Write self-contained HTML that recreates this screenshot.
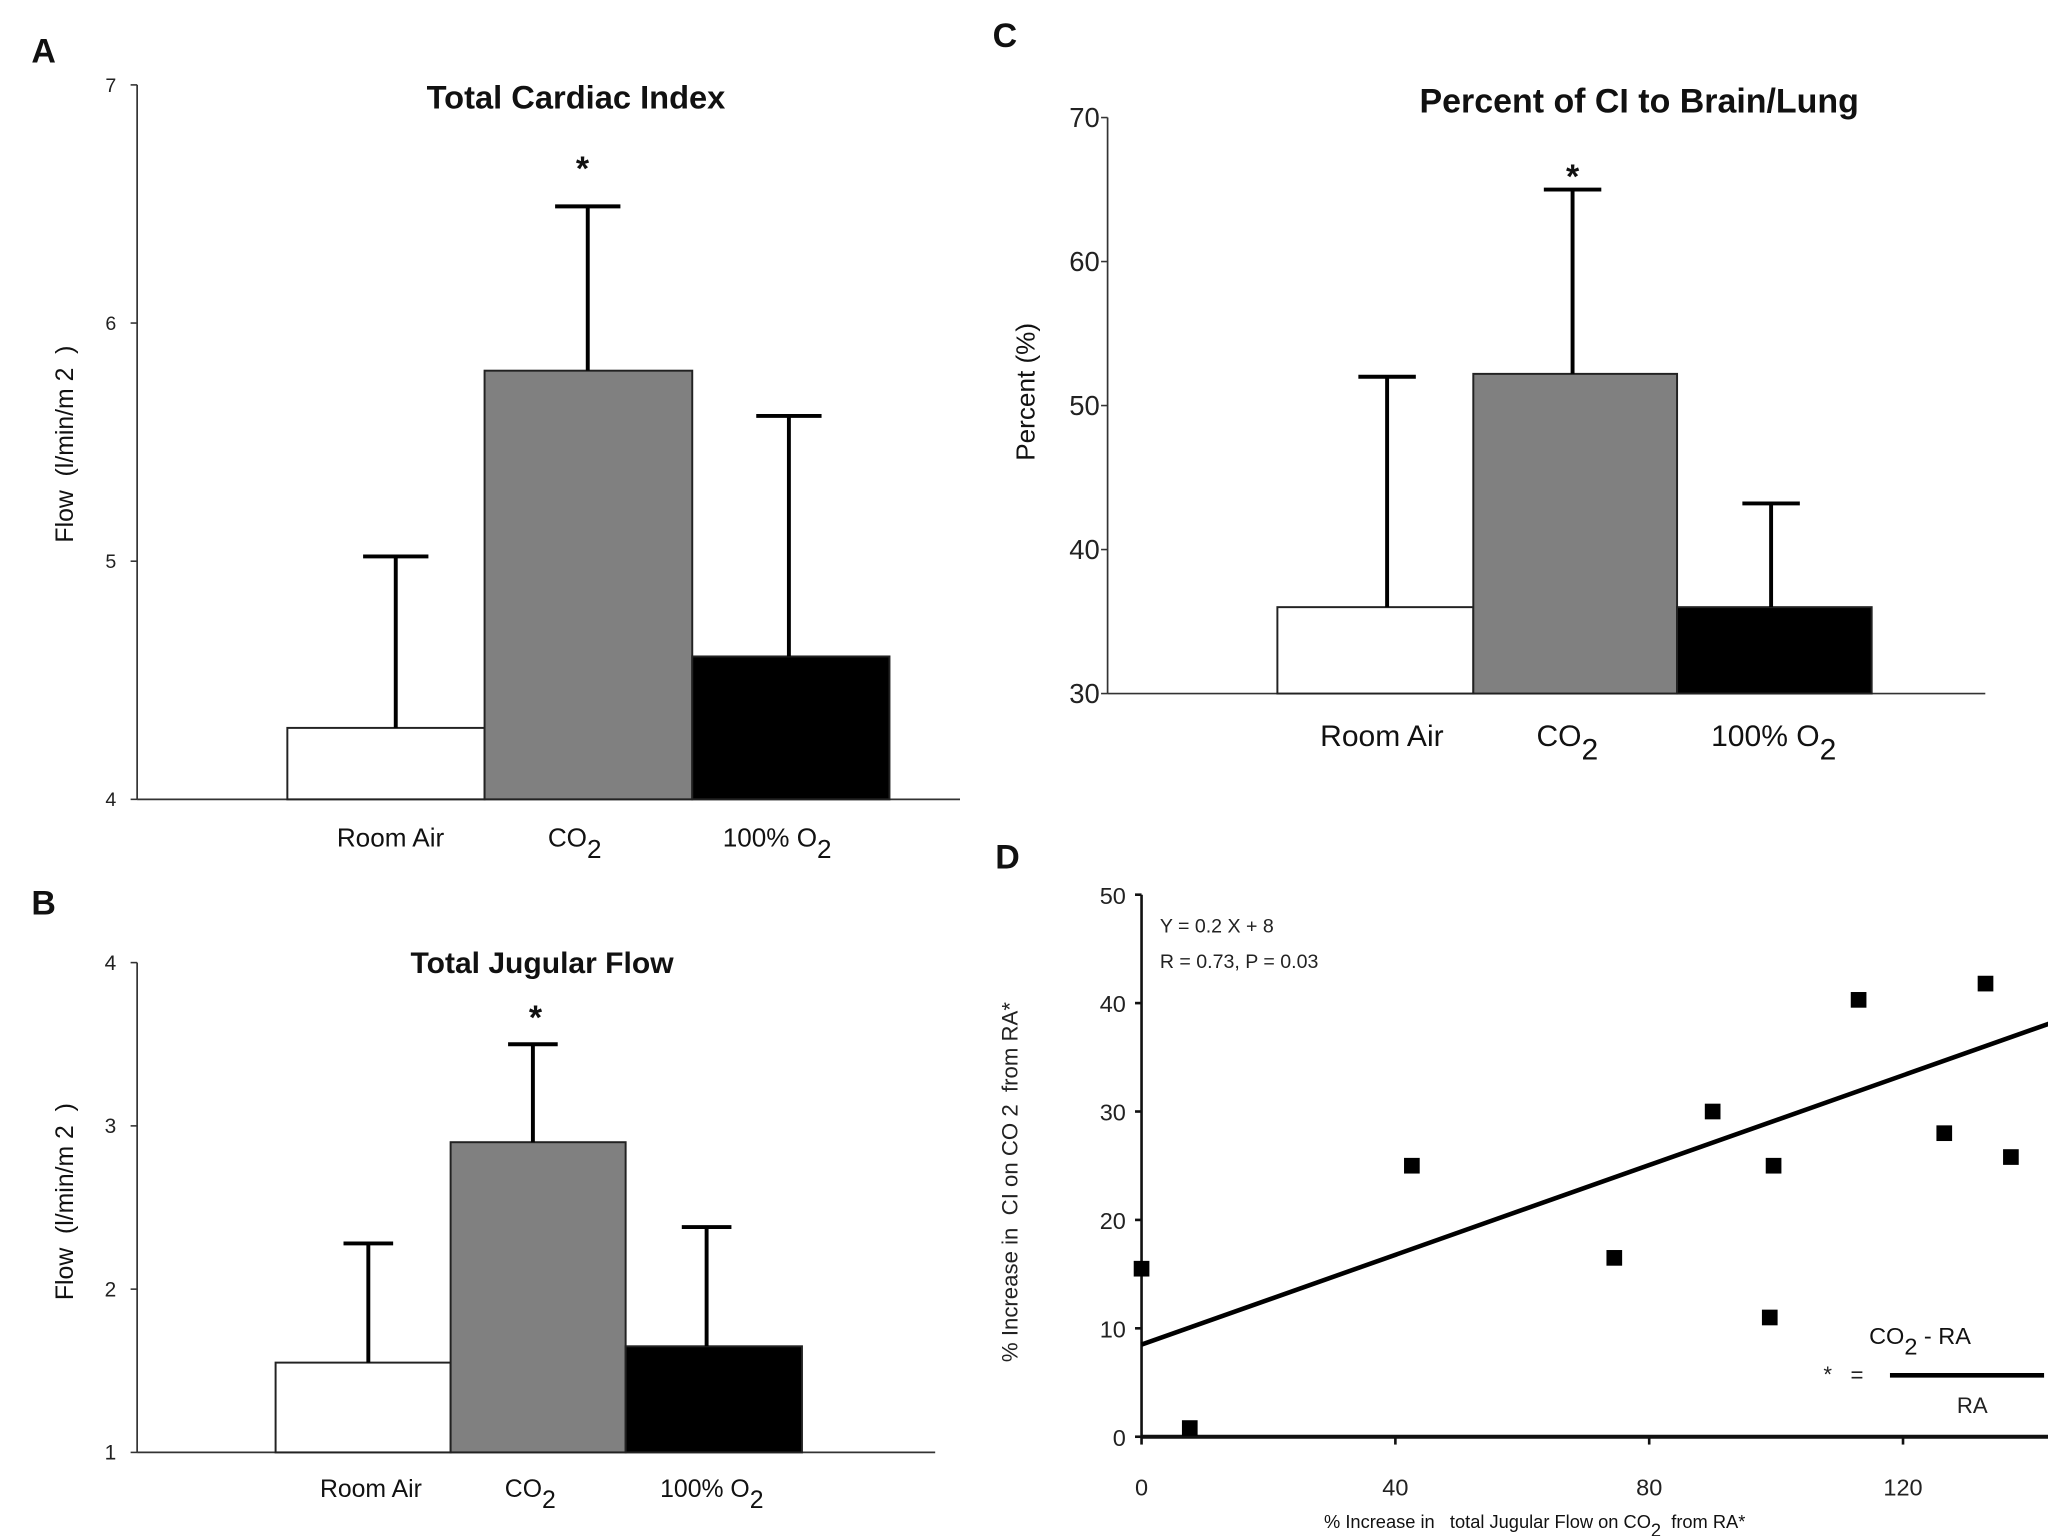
<!DOCTYPE html>
<html><head><meta charset="utf-8"><style>
html,body{margin:0;padding:0;background:#fff;}
svg{display:block;font-family:"Liberation Sans",Arial,sans-serif;}
svg text{white-space:pre;}
</style></head><body>
<svg id="fig" width="2048" height="1536" viewBox="0 0 1568 1176" xmlns="http://www.w3.org/2000/svg" xml:space="preserve">
<rect width="1568" height="1176" fill="#fff"/>
<g id="root"></g>
</svg>
<script>
// Panel A data
const catsA = ["Room Air", "CO2", "100% O2"];
const valsA = [4.3, 5.8, 4.6];
const errA = [5.02, 6.49, 5.61];
const ticksA = [4, 5, 6, 7];
// Panel B data
const valsB = [1.55, 2.9, 1.65];
const errB = [2.28, 3.5, 2.38];
const ticksB = [1, 2, 3, 4];
// Panel C data
const valsC = [36, 52.2, 36];
const errC = [52, 65, 43.2];
const ticksC = [30, 40, 50, 60, 70];
// Panel D data
const ptsX = [0, 7.6, 42.6, 74.5, 90, 99, 99.6, 113, 126.5, 133, 137];
const ptsY = [15.5, 0.8, 25, 16.5, 30, 11, 25, 40.3, 28, 41.8, 25.8];
const fitSlope = [0.207];
const fitIntercept = [8.5];
const ticksDX = [0, 40, 80, 120];
const ticksDY = [0, 10, 20, 30, 40, 50];
const fills = ["#ffffff", "#808080", "#000000"];

const NS = "http://www.w3.org/2000/svg";
const root = document.getElementById("root");
function mk(tag, attrs, parent, text) {
  const e = document.createElementNS(NS, tag);
  for (const k in attrs) e.setAttribute(k, attrs[k]);
  if (text !== undefined) e.textContent = text;
  (parent || root).appendChild(e);
  return e;
}
function subLabel(g, x, y, base, sub, rest, fs) {
  const t = mk("text", {x: x, y: y, "font-size": fs, "text-anchor": "middle", fill: "#111"}, g);
  const a = document.createElementNS(NS, "tspan"); a.textContent = base; t.appendChild(a);
  const b = document.createElementNS(NS, "tspan"); b.setAttribute("dy", fs * 0.45); b.setAttribute("font-size", fs); b.textContent = sub; t.appendChild(b);
  if (rest) { const c = document.createElementNS(NS, "tspan"); c.setAttribute("dy", -fs * 0.45); c.textContent = rest; t.appendChild(c); }
  return t;
}

function barPanel(cfg) {
  const g = mk("g", {});
  
  
  const y = v => cfg.y0 + (v - cfg.vmin) / (cfg.vmax - cfg.vmin) * (cfg.y1 - cfg.y0);
  const yl = mk("line", {x1: cfg.ax, x2: cfg.ax, y1: y(cfg.vmax), y2: y(cfg.vmin), stroke: "#333", "stroke-width": 1.3}, g);
   
  const xl = mk("line", {x1: cfg.ax, x2: cfg.axEnd, y1: y(cfg.vmin), y2: y(cfg.vmin), stroke: "#333", "stroke-width": 1.3}, g);
   
  cfg.ticks.forEach(t => {
    mk("line", {x1: cfg.ax - 5, x2: cfg.ax, y1: y(t), y2: y(t), stroke: "#333", "stroke-width": 1.2}, g);
    const tl = mk("text", {x: cfg.ax - cfg.tickOff, y: y(t) + cfg.tickFs * 0.35, "font-size": cfg.tickFs, "text-anchor": "end", fill: "#222"}, g, String(t));
     
  });
  cfg.vals.forEach((v, i) => {
    const x0 = cfg.bx[i], x1 = cfg.bx[i + 1], cx = cfg.ex[i];
    const r = mk("rect", {x: x0, y: y(v), width: x1 - x0, height: y(cfg.vmin) - y(v), fill: fills[i], stroke: "#222", "stroke-width": 1.5}, g);
    
    
    const e = mk("path", {d: `M${cx},${y(v)}V${y(cfg.err[i])}M${cx - cfg.cap},${y(cfg.err[i])}H${cx + cfg.cap}`, stroke: "#000", "stroke-width": 3, fill: "none"}, g);
     
  });
  const ti = mk("text", {x: cfg.titleX, y: cfg.titleY, "font-size": cfg.titleFs, "font-weight": "bold", "text-anchor": "middle", fill: "#111"}, g, cfg.title);
   
  const st = mk("text", {x: cfg.starX, y: cfg.starY, "font-size": 26, "font-weight": "bold", "text-anchor": "middle", fill: "#111"}, g, "*");
   
  const l1 = mk("text", {x: cfg.lx[0], y: cfg.ly, "font-size": cfg.labFs, "text-anchor": "middle", fill: "#111"}, g, catsA[0]);
   
  const l2 = subLabel(g, cfg.lx[1], cfg.ly, "CO", "2", "", cfg.labFs);
   
  const l3 = subLabel(g, cfg.lx[2], cfg.ly, "100% O", "2", "", cfg.labFs);
   
  const pl = mk("text", {x: cfg.panelX, y: cfg.panelY, "font-size": 26, "font-weight": "bold", fill: "#111"}, g, cfg.panel);
   
  const yt = mk("text", {x: 0, y: 0, "font-size": cfg.ylFs, "text-anchor": "middle", fill: "#111", transform: `translate(${cfg.ylX},${cfg.ylY}) rotate(-90)`}, g, cfg.ylabel);
   
}

barPanel({name: "panel-a-cardiac-index", vals: valsA, err: errA, ticks: ticksA, vmin: 4, vmax: 7, y0: 612, y1: 65, ax: 105, axEnd: 735,
  bx: [220, 371, 530, 681], ex: [303, 450, 604], cap: 25, tickOff: 16, tickFs: 15,
  title: "Total Cardiac Index", titleX: 441, titleY: 83, titleFs: 25, starX: 446, starY: 138,
  lx: [299, 440, 595], ly: 648, labFs: 20, panel: "A", panelX: 24, panelY: 48,
  ylabel: "Flow  (l/min/m 2  )", ylX: 56, ylY: 340, ylFs: 19});
barPanel({name: "panel-b-jugular-flow", vals: valsB, err: errB, ticks: ticksB, vmin: 1, vmax: 4, y0: 1112, y1: 737, ax: 105, axEnd: 716,
  bx: [211, 345, 479, 614], ex: [282, 408, 541], cap: 19, tickOff: 16, tickFs: 16,
  title: "Total Jugular Flow", titleX: 415, titleY: 745, titleFs: 23, starX: 410, starY: 788,
  lx: [284, 406, 545], ly: 1146, labFs: 19, panel: "B", panelX: 24, panelY: 700,
  ylabel: "Flow  (l/min/m 2  )", ylX: 56, ylY: 920, ylFs: 19});
barPanel({name: "panel-c-percent-ci", vals: valsC, err: errC, ticks: ticksC, vmin: 30, vmax: 70, y0: 531, y1: 90, ax: 848, axEnd: 1520,
  bx: [978, 1128, 1284, 1433], ex: [1062, 1204, 1356], cap: 22, tickOff: 6, tickFs: 21,
  title: "Percent of CI to Brain/Lung", titleX: 1255, titleY: 86, titleFs: 26, starX: 1204, starY: 144,
  lx: [1058, 1200, 1358], ly: 571, labFs: 23, panel: "C", panelX: 760, panelY: 36,
  ylabel: "Percent (%)", ylX: 792, ylY: 300, ylFs: 20});

// Panel D
(function () {
  const g = mk("g", {});
  
  
  const X = v => 874 + v * (1457 - 874) / 120;
  const Y = v => 1100 - v * (1100 - 685) / 50;
  const ya = mk("line", {x1: X(0), x2: X(0), y1: Y(50), y2: Y(0), stroke: "#111", "stroke-width": 2}, g);
   
  const xa = mk("line", {x1: X(0), x2: 1568, y1: Y(0), y2: Y(0), stroke: "#111", "stroke-width": 3}, g);
   
  ticksDY.forEach(t => {
    mk("line", {x1: X(0) - 5, x2: X(0), y1: Y(t), y2: Y(t), stroke: "#111", "stroke-width": 2}, g);
    const tl = mk("text", {x: X(0) - 12, y: Y(t) + 7, "font-size": 18, "text-anchor": "end", fill: "#222"}, g, String(t));
     
  });
  ticksDX.forEach(t => {
    mk("line", {x1: X(t), x2: X(t), y1: Y(0), y2: Y(0) + 6, stroke: "#111", "stroke-width": 2}, g);
    const tl = mk("text", {x: X(t), y: Y(0) + 45, "font-size": 18, "text-anchor": "middle", fill: "#222"}, g, String(t));
     
  });
  const xEnd = 143;
  const fl = mk("line", {x1: X(0), y1: Y(fitIntercept[0]), x2: X(xEnd), y2: Y(fitIntercept[0] + fitSlope[0] * xEnd), stroke: "#000", "stroke-width": 3.5}, g);
   
  ptsX.forEach((px, i) => {
    const r = mk("rect", {x: X(px) - 6, y: Y(ptsY[i]) - 6, width: 12, height: 12, fill: "#000"}, g);
     
  });
  const e1 = mk("text", {x: 888, y: 714, "font-size": 15, fill: "#222"}, g, "Y = 0.2 X + 8");
   
  const e2 = mk("text", {x: 888, y: 741, "font-size": 15, fill: "#222"}, g, "R = 0.73, P = 0.03");
   
  const fn = subLabel(g, 1470, 1029, "CO", "2", " - RA", 18);
   
  const fb = mk("line", {x1: 1447, x2: 1565, y1: 1053, y2: 1053, stroke: "#000", "stroke-width": 3.5}, g);
   
  const fd = mk("text", {x: 1510, y: 1082, "font-size": 17, "text-anchor": "middle", fill: "#222"}, g, "RA");
   
  const fs = mk("text", {x: 1396, y: 1058, "font-size": 17, fill: "#222"}, g, "*   =");
   
  const xt = subLabel(g, 1175, 1170, "% Increase in   total Jugular Flow on CO", "2", "  from RA*", 14);
   
  const yt = mk("text", {x: 0, y: 0, "font-size": 17, "text-anchor": "middle", fill: "#222", transform: "translate(779,905) rotate(-90)"}, g, "% Increase in  CI on CO 2  from RA*");
   
  const pl = mk("text", {x: 762, y: 665, "font-size": 26, "font-weight": "bold", fill: "#111"}, g, "D");
   
})();
</script>
</body></html>
